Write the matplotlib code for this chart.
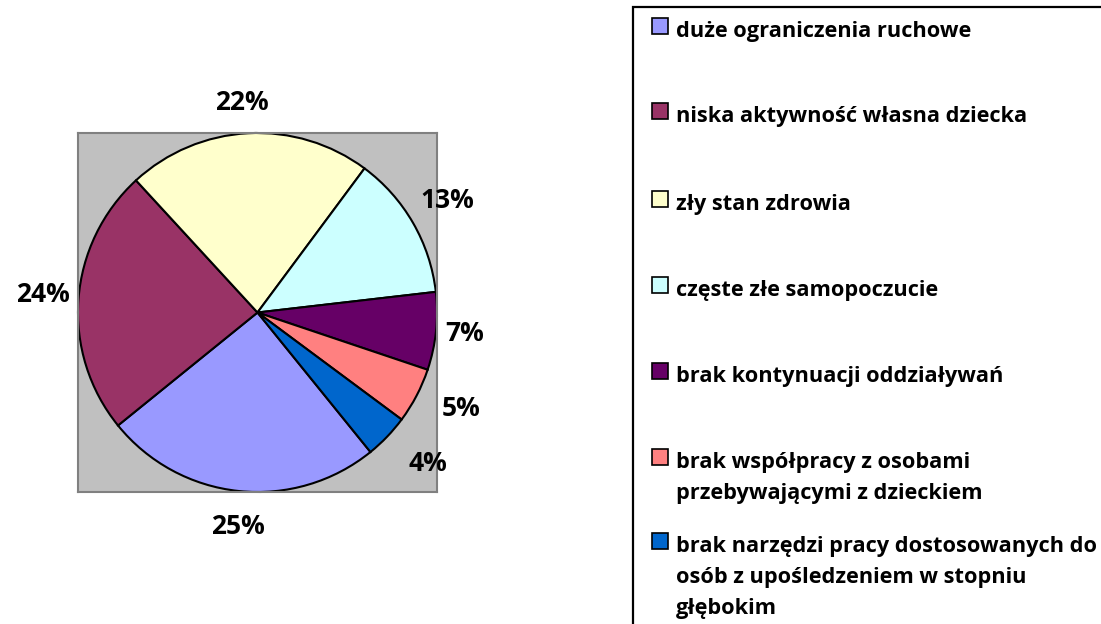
import numpy as np
import matplotlib.pyplot as plt
from matplotlib.patches import Rectangle

# data
categories = [
    "duże ograniczenia ruchowe",
    "niska aktywność własna dziecka",
    "zły stan zdrowia",
    "częste złe samopoczucie",
    "brak kontynuacji oddziaływań",
    "brak współpracy z osobami\nprzebywającymi z dzieckiem",
    "brak narzędzi pracy dostosowanych do\nosób z upośledzeniem w stopniu\ngłębokim",
]
shares = [25, 24, 22, 13, 7, 5, 4]
colors = ["#9999FF", "#993366", "#FFFFCC", "#CCFFFF", "#660066", "#FF8080", "#0066CC"]

plt.rcParams['font.family'] = ['Open Sans', 'DejaVu Sans']
plt.rcParams['font.weight'] = 'bold'

W, H = 1101, 624
fig = plt.figure(figsize=(W / 100, H / 100), dpi=100)

# plot area (grey square) in pixel coords
px, py, pw, ph = 78, 133, 359, 359
ax = fig.add_axes([px / W, 1 - (py + ph) / H, pw / W, ph / H])

wedges, texts = ax.pie(
    shares, colors=colors, startangle=-51, counterclock=False, frame=True,
    wedgeprops=dict(edgecolor="black", linewidth=1.5),
)
ax.set_facecolor("#C0C0C0")
for s in ax.spines.values():
    s.set_color("#808080")
    s.set_linewidth(1.5)
ax.set_xlim(-1.0, 1.0)
ax.set_ylim(-1.0, 1.0)
ax.set_aspect("equal")
ax.set_xticks([])
ax.set_yticks([])

# percentage labels, excel-like "best fit" placement (distance, angle nudge)
label_dist = [1.2, 1.2, 1.175, 1.227, 1.16, 1.254, 1.27]
label_nudge = [0.7, -0.5, 1.3, 0.7, 0.1, 2.3, 2.3]
for w, v, d, n in zip(wedges, shares, label_dist, label_nudge):
    ang = np.deg2rad((w.theta1 + w.theta2) / 2 + n)
    ax.text(d * np.cos(ang), d * np.sin(ang), f"{v}%", ha="center", va="center",
            fontsize=19, fontweight='bold', clip_on=False)

# legend box drawn by hand (runs off the right and bottom edge like the original)
def fx(x):
    return x / W

def fy(y):
    return 1 - y / H

fig.patches.append(Rectangle((fx(633), fy(640)), fx(600), 633 / H, transform=fig.transFigure,
                             facecolor="white", edgecolor="black", linewidth=1.6, clip_on=False))

row_y = [26, 111, 199, 285, 371, 457, 541]
for lab, col, y in zip(categories, colors, row_y):
    fig.patches.append(Rectangle((fx(652), fy(y + 8)), fx(16), 16 / H, transform=fig.transFigure,
                                 facecolor=col, edgecolor="black", linewidth=1.2))
    for i, line in enumerate(lab.split("\n")):
        fig.text(fx(676), fy(y + 11 + 31 * i), line, fontsize=15.7, fontweight='bold',
                 va="baseline", ha="left")

fig.savefig("out.png", dpi=100)
